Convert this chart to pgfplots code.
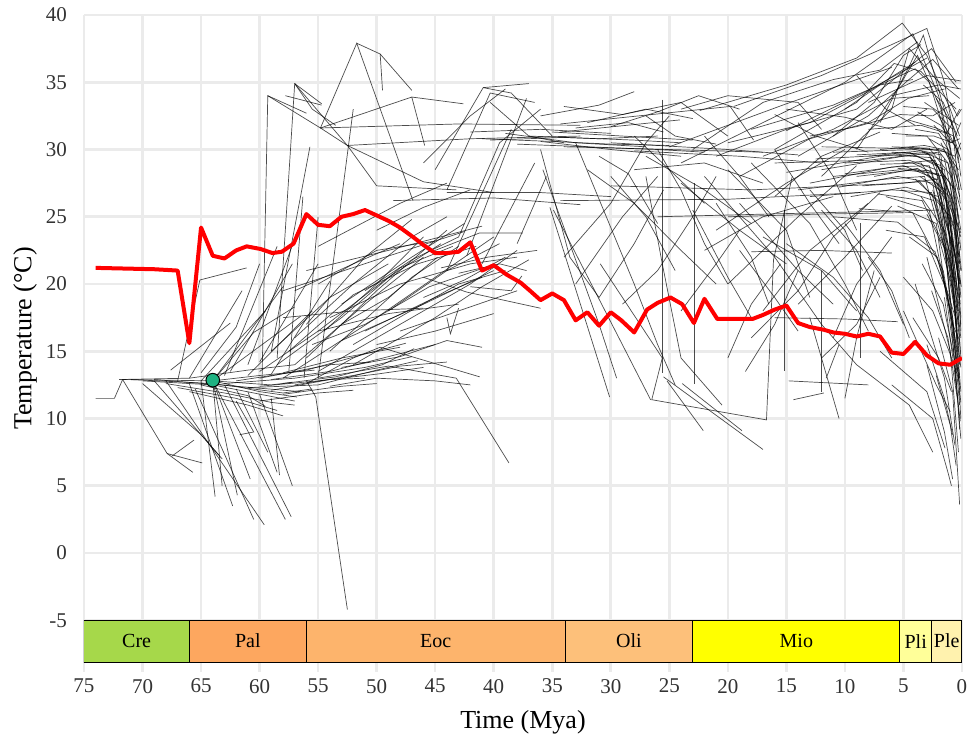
\documentclass[border=0pt]{standalone}
\usepackage{pgfplots}
\pgfplotsset{compat=1.18}
\usepackage{fontspec}
\setmainfont{Liberation Serif}
\definecolor{gridc}{RGB}{235,235,235}
\definecolor{cre}{HTML}{A6D84A}
\definecolor{pal}{HTML}{FDA75F}
\definecolor{eoc}{HTML}{FDB46C}
\definecolor{oli}{HTML}{FDC07A}
\definecolor{mio}{HTML}{FFFF00}
\definecolor{pli}{HTML}{FFFF99}
\definecolor{ple}{HTML}{FFF2AE}
\definecolor{dot}{RGB}{30,178,130}
\newcommand{\seg}[1]{\addplot[tr] coordinates {#1};}
\begin{document}
\begin{tikzpicture}
\begin{axis}[
  scale only axis, width=439pt, height=323.5pt,
  x dir=reverse, xmin=0, xmax=75, ymin=-8.1, ymax=40,
  xtick={0,5,...,75}, ytick={-5,0,...,40},
  grid=major, grid style={draw=gridc, line width=1.3pt},
  axis line style={draw=none},
  tick align=outside, major tick length=5pt,
  xtick style={draw=gridc, line width=1.3pt},
  ytick style={draw=none},
  xtick pos=bottom, ytick pos=left,
  /pgf/number format/assume math mode=true,
  tick label style={font=\fontsize{10.5}{12}\selectfont, text=black!80},
  label style={font=\fontsize{13}{16}\selectfont},
  xlabel={Time (Mya)}, ylabel={Temperature (°C)},
  ylabel style={at={(axis description cs:-0.067,0.5)}, anchor=center},
  xlabel style={at={(axis description cs:0.5,-0.093)}, anchor=center},
  tr/.style={black, opacity=0.7, line width=0.35pt},
]
% ---- root cluster
\seg{(74,11.5)(72.4,11.5)(71.7,12.9)(64,12.8)}
\seg{(71.7,12.9)(67.9,7.4)(65.7,6.0)}
\seg{(67.9,7.4)(64.9,6.7)}
\seg{(67.5,7.2)(65.6,8.4)}
\seg{(72,12.9)(66,13.0)(61,13.6)(57,14.0)}
\seg{(71,12.9)(64,12.6)(58,11.9)(55.5,12.2)}
\seg{(70,12.8)(64,12.5)(57,11.3)}
\seg{(69,12.9)(62,12.4)(56.5,12.0)}
\seg{(68,12.6)(63,11.9)(59,11.2)(57,11.0)}
\seg{(67,12.3)(62,11.5)(58.5,10.6)}
\seg{(66,12.0)(61,11.0)(58,10.2)}
\seg{(64,12.8)(60,12.0)(56.8,11.6)}
\seg{(64,12.8)(60,13.2)(55.3,13.6)}
\seg{(64,12.8)(59,12.5)(57.2,12.7)}
\seg{(65,12.5)(61,11.7)(59.5,10.9)}
\seg{(66,12.6)(62.3,3.5)}
\seg{(65.5,12.2)(60.5,2.5)}
\seg{(68,12.8)(59.6,2.1)}
\seg{(64,12.8)(57.8,2.5)}
\seg{(63,12.5)(57.3,2.7)}
\seg{(64,12.8)(61.9,4.3)}
\seg{(64,12.8)(63.2,5.0)}
\seg{(65,12.8)(63.8,4.2)}
\seg{(64,12.8)(60.8,5.5)}
\seg{(69,12.8)(63.5,7.3)}
\seg{(70,12.6)(65,8.8)(63.2,7.0)}
\seg{(62,12.2)(59.3,7.5)}
\seg{(61,12.0)(58.5,6.0)}
\seg{(60,11.8)(57.2,5.0)}
\seg{(59,11.5)(58.3,5.8)}
\seg{(62,11.3)(60.5,9.0)(61.7,8.8)}
\seg{(67.6,13.6)(62.5,17.1)}
\seg{(66,13.0)(61.5,19.5)}
\seg{(65,12.8)(59.5,18.0)}
\seg{(64,12.8)(58,19.8)}
\seg{(64,12.8)(60.5,16.4)(57,18.3)}
\seg{(64,12.8)(56.5,17.6)}
\seg{(65,13.4)(62,16.8)(60,21.5)}
\seg{(63,13.2)(58.5,22.8)}
\seg{(62.5,13.5)(57.2,21.5)}
\seg{(61,14)(56.5,24.5)}
\seg{(60,14.2)(55,21.5)}
\seg{(61,13.2)(55.5,18.0)}
\seg{(59,13.3)(54,20.2)}
\seg{(67,12.8)(65.1,20.3)(61.1,21.2)}
% ---- lower band
\seg{(60,12.4)(55,12.8)(50,13.3)(46,13.8)}
\seg{(59,12.9)(54,13.5)(49,14.6)(45,15.5)}
\seg{(58,13.4)(53,14.5)(48,15.3)}
\seg{(57,12.5)(52,13.2)(48,13.9)(44,14.2)}
\seg{(58,11.8)(53,12.4)(50,12.6)}
\seg{(60,11.3)(55,11.9)(52,12.1)}
\seg{(56,12.6)(52,14.5)(49.7,15.3)(41.2,13.1)}
\seg{(55,13.0)(49,13.9)(43.2,13.0)(38.7,6.7)}
\seg{(54,12.4)(50,13.0)(45,12.8)(42,12.5)}
\seg{(56,12.8)(55.2,11.6)(52.5,-4.2)}
\seg{(53,13.8)(48,14.6)(44,15.8)(41,15.3)}
\seg{(63,12.6)(57,13.0)(51,13.8)(47,14.6)}
\seg{(62,12.8)(56,13.6)(51,14.8)(47.5,15.6)}
\seg{(61,12.3)(55,12.5)(50,13.6)(46.5,14.3)}
\seg{(60,13.0)(54,14.0)(50.5,14.2)}
\seg{(59,12.1)(54,12.9)(51,13.0)}
\seg{(58,12.6)(53.5,13.1)(49.5,14.0)(46.8,15.2)}
% ---- rising band
\seg{(58,13.0)(50,17.5)(45,20.5)(40,23.5)}
\seg{(57,14.0)(51,18.5)(46,22.0)}
\seg{(56,14.5)(50,19.5)(44,24.0)}
\seg{(55,13.5)(48,17.0)(42,20.0)(38,22.5)}
\seg{(54,15.0)(47,20.5)(43,22.8)}
\seg{(57,16.0)(52,20.0)(47,23.5)(44,25.0)}
\seg{(53,15.8)(46,18.5)(40,21.0)}
\seg{(52,14.0)(45,17.5)(41,19.8)(37,21.8)}
\seg{(56,17.0)(51,22.0)(47,24.8)}
\seg{(59,15.0)(54,19.0)(49,21.5)}
\seg{(55,16.5)(49,17.8)(43,18.5)}
\seg{(58,17.5)(52,18.0)(46,18.2)}
\seg{(54,17.5)(48,20.0)(42,21.5)(38,22.0)}
\seg{(51,16.5)(45,19.0)(41,20.5)}
\seg{(50,15.5)(45,16.5)(40,17.8)}
\seg{(57,19.5)(52,21.5)(48,23.0)}
\seg{(55,20.0)(50,22.5)(45,23.2)}
\seg{(53,18.5)(47,22.0)(42.5,24.5)}
\seg{(49,18.0)(44,21.0)(39.5,23.0)}
\seg{(48,16.5)(43,18.0)(38,19.5)}
\seg{(46,19.0)(42.5,20.3)(39,22.0)}
\seg{(58,19.5)(50,21.8)(42.5,23.9)}
\seg{(56,21)(49,22.5)(41,24.3)}
\seg{(55,22.8)(48,26.0)(44,27.5)}
\seg{(50,24.0)(46,25.7)(42,27.0)}
\seg{(48.6,26.2)(40,26.4)(32.6,25.9)}
\seg{(44,26.8)(36,26.8)(30,26.5)}
\seg{(46,20.5)(42.3,19.4)(36,18.2)}
\seg{(42,19.8)(38.5,19.5)(37.6,20.6)}
\seg{(45,22.5)(41.2,23.8)(37.5,23.8)}
\seg{(44.5,21.2)(40.5,22)(36.3,22.5)}
\seg{(43,20.8)(39.5,21.5)(37.2,21)}
\seg{(44,17.5)(43.7,16.3)(43.0,18.2)}
\seg{(60,13.5)(55,16.5)(49,20.5)(44.5,23.0)}
\seg{(58.5,14)(53,17.5)(48,21.2)(43.5,22.8)}
\seg{(57.5,15)(52,19.2)(46.5,21.5)(41.5,22.8)}
\seg{(55.5,15.5)(51,17.0)(45.5,19.8)(40.5,21.3)}
\seg{(54.5,16.5)(50,20)(46,23.5)}
\seg{(53,17.0)(49,19.0)(44.8,22.0)}
\seg{(52,15.5)(47.5,17.8)(43,20.0)(39,21.0)}
\seg{(51,19.5)(47,21.8)(43,23.5)}
% ---- steep lines up to the Eocene highs
\seg{(59.8,12.5)(59.3,34.0)(54.8,31.6)}
\seg{(58.5,14.5)(57.0,34.9)(54.7,33.4)}
\seg{(57.0,34.9)(55.5,33.0)(53.5,31.8)}
\seg{(59.3,34.0)(56.0,32.7)}
\seg{(57.8,34.0)(54.7,33.3)}
\seg{(59,15)(55.7,30.2)}
\seg{(57.5,13.5)(56.3,26.5)}
\seg{(56.2,13)(55,25)}
\seg{(55,13)(52,33)}
\seg{(54.8,31.6)(51.7,37.9)(46.9,26.2)}
\seg{(51.7,37.9)(49.7,37.1)(47.0,34.4)}
\seg{(49.7,37.1)(49.5,34.4)}
\seg{(54.8,31.6)(52.5,30.3)(50.0,27.3)(43.2,27.0)}
\seg{(54.8,31.6)(47.0,33.9)(45.9,30.3)}
\seg{(47.0,33.9)(42.6,33.4)}
\seg{(54.8,31.6)(43,31.9)(32.6,31.8)}
\seg{(52.5,30.3)(42,30.8)(32.6,31.0)}
\seg{(57.0,34.9)(52.5,30.3)(46,27.6)(40,26.8)}
\seg{(45,28.5)(40.9,34.6)(37.0,34.9)}
\seg{(40.9,34.6)(38.5,34.2)(35,31.0)}
\seg{(44,27)(40.3,34.2)(36.5,33.5)}
\seg{(46,29)(42,32.5)(39,34.5)}
\seg{(40.3,33.5)(37,31)(34,30.5)}
\seg{(42.3,22.1)(37.2,33.8)}
\seg{(44,21)(38.5,31.5)}
\seg{(43,23.5)(39.5,30.5)(36,33)}
\seg{(41,21.5)(36.5,29.0)}
\seg{(38,23)(35.5,28)}
% ---- Oligocene band
\seg{(41,30.8)(35,30.6)(30,30.4)(25,30.3)}
\seg{(40.3,30.7)(34,30.9)(28,30.7)(24,30.5)}
\seg{(39,31.2)(33,30.5)(27,30.2)}
\seg{(38,30.4)(32,30.2)(26,30.0)(22,29.8)}
\seg{(37,31.0)(31,30.8)(26,31.0)}
\seg{(36,30.6)(30,30.0)(24,29.5)}
\seg{(42,31.3)(36,31.5)(30,31.2)}
\seg{(35,31.3)(29,31.0)(23,30.7)}
\seg{(34.3,31.9)(19.8,33.2)(17.8,30.7)}
\seg{(34.3,31.3)(24.1,32.2)}
\seg{(34,30.2)(25,30.0)(17,29.8)}
\seg{(30,30.5)(20,30.0)(14,29.6)}
\seg{(28,29.9)(19,29.5)(12,29.0)}
\seg{(34.3,26.2)(20,26.3)(8.7,26.8)}
\seg{(30,27.3)(18,27.0)(5,27.5)(2,27.8)}
\seg{(26,25.0)(12,25.3)(2,25.5)}
\seg{(34,33.2)(29,32.6)(24,33.5)(20,31)}
\seg{(32,32.0)(27,33.0)(23,32.3)}
\seg{(30,31.7)(26,32.8)(22.5,34.0)(19,33.0)}
\seg{(36,32.5)(31,33.3)(28,34.3)}
\seg{(27,32.5)(24.5,31)(21,30.4)}
\seg{(33,31.6)(28.5,32.0)(25.5,31.3)}
% ---- descending Oligocene lines
\seg{(35.2,25.7)(30.1,11.6)}
\seg{(34.9,25.5)(26.6,11.4)}
\seg{(35.8,28.5)(31,17)(29.5,13)}
\seg{(36,30)(33.5,22)(31,19)}
\seg{(33,30.5)(28,20)(26,15.5)(24.5,12.5)}
\seg{(25.6,33.7)(25.6,13.4)}
\seg{(27,28)(25.6,21.5)(24,14.5)(20.5,11)}
\seg{(30.9,21.5)(25.6,14.5)(26.5,11.4)(16.7,9.9)(16.1,21.8)(14.5,28)}
\seg{(25.5,13.1)(17.0,7.7)}
\seg{(25.2,12.8)(22.1,9.1)}
\seg{(23.9,12.6)(18.8,9.1)}
\seg{(22.9,27.5)(22.9,12.6)}
\seg{(14.4,11.4)(11.8,11.9)}
\seg{(11.6,13.0)(10.5,15.5)}
\seg{(34,22)(30,26)(27,30.5)(25,32.5)}
\seg{(33,20)(29,25)(26,28)}
\seg{(31,19)(28,23)(25.5,27)}
\seg{(29,18.5)(26,21)(23,25)(21,28)}
\seg{(32,28.5)(28,26)(24,22.5)(21,20)}
\seg{(30,28)(27,25)(24.5,21)}
\seg{(24,18)(21,21.5)(19,24)}
\seg{(28,31)(25,28.5)(22,26)}
\seg{(31,29.5)(28.5,28.2)(26,24.5)}
% ---- Miocene to present: upper arcs
\seg{(22.4,32.9)(15,34.8)(9,36.8)(5.1,39.4)(3,37)(1,33)(0.2,31)}
\seg{(19.5,33.2)(12,35.5)(6,37.8)(3.0,39.0)(1.5,35)(0.3,29)}
\seg{(24,29)(17,32)(10,35)(4.2,38.6)(2,34)(0.2,27)}
\seg{(16,30)(9,33.5)(5.8,36.4)(3.5,35.8)(0.5,33)}
\seg{(14,29.5)(8,32.5)(4.8,35)(2.5,36.7)(0.3,34.5)}
\seg{(12,28)(6,33)(4.5,37.5)(2.2,35.2)(0.2,33.8)}
\seg{(9,30)(5.5,34.5)(3.8,37.0)(1.8,33)(0.1,24)}
\seg{(18,31.5)(11,33.3)(6.5,35.0)(4.0,36.0)(2.8,35.0)(1,30)}
\seg{(7,32)(4.5,36.2)(3.3,38.5)(1.2,32)(0.2,22)}
\seg{(20,30.5)(13,32)(8,34.3)(4.0,36.5)}
\seg{(25,30.2)(15,33.4)(6,36.1)}
\seg{(15,31.4)(8,34.4)(3,36.8)}
\seg{(8,33.5)(3,35.5)(0.1,35.1)}
\seg{(6,34)(2,34.8)(0.1,34.5)}
\seg{(21,29.5)(15,31.5)(9,33.0)(5,35.8)(2.6,37.5)(0.5,35)}
\seg{(23,30)(17,33.5)(11,35.2)(7,35.9)(3.8,38.0)}
\seg{(19,28)(13,30.8)(8,32)(4.6,33.8)(1.5,34.5)}
\seg{(17,29.5)(11,31.5)(6,33.8)(2.8,34.0)}
\seg{(13,31)(9,31.7)(5.3,32.6)(2.5,32.5)(0.6,33.5)}
\seg{(10,33)(7,34.8)(4.2,35.2)}
\seg{(11,31)(7.5,33.5)(5,37)(3.5,37.8)}
\seg{(15,33.0)(10,32.4)(6,31.5)(3,33)}
\seg{(9,35.5)(6.5,33)(4,31.8)}
\seg{(16,32.6)(12.5,31)(8,29.8)}
\seg{(24,33)(20,34)(14,33.5)(12,31.5)}
% ---- right edge fans
\seg{(12,28.5)(5,29.5)(2,29.8)(0.2,20)}
\seg{(11,29.8)(4,30.0)(1.8,29.6)(0.1,16)}
\seg{(10,29)(4.5,29.2)(2.2,28.5)(0.3,18)}
\seg{(13,27.5)(6,28.7)(2.8,28.8)(0.5,22)}
\seg{(9,28)(4,28.5)(1.5,28)(0.2,14)}
\seg{(8,29.5)(3.5,29.9)(1.2,29)(0.1,25.5)}
\seg{(15,28.3)(7,29.5)(3,29.8)(0.6,27)}
\seg{(14,27)(6.5,27.8)(3.2,28)(0.8,20.5)}
\seg{(10.5,27.2)(5.5,28.0)(2.5,27.5)(0.4,17)}
\seg{(7.5,28)(3.8,28.6)(1.4,27)(0.1,12)}
\seg{(16,29)(8,29.2)(4.2,29.6)(1.8,28.8)(0.2,23)}
\seg{(6,30.2)(2.8,30.1)(0.9,28)(0.05,21)}
\seg{(5,29.0)(2.3,29.2)(0.7,26)(0.1,19)}
\seg{(11,28)(5.2,28.5)(2.0,28.2)(0.3,15.5)}
\seg{(9.5,26.5)(4.8,27.2)(2.0,26.5)(0.2,13)}
\seg{(8.5,27.3)(3.6,27.6)(1.0,25)(0.1,10)}
\seg{(13,26.5)(6,27)(2.6,26.8)(0.5,20)}
\seg{(7,30)(3.2,30.3)(1.6,30)(0.3,28.5)}
\seg{(4.5,30.1)(2.0,30.0)(0.6,29.5)(0.1,30.5)}
\seg{(12,30.2)(6,30.1)(2.5,30.0)}
\seg{(3.5,30.1)(1.2,29.8)(0.2,26.5)}
\seg{(3,28.2)(1.1,26.5)(0.1,23.5)}
\seg{(2.7,29.4)(1.0,27.5)(0.2,21.5)}
\seg{(4,27.8)(1.8,26.0)(0.4,13.5)}
\seg{(6.5,26.5)(2.8,25.5)(0.8,17)(0.2,11)}
\seg{(5.5,25.8)(2.2,24.5)(0.7,15)(0.1,8.5)}
\seg{(3.5,26.5)(1.5,24.0)(0.5,12.5)}
\seg{(2.5,27)(1.2,23)(0.4,16.5)}
\seg{(4.8,31)(2.4,31.0)(0.8,30.5)(0.1,32)}
\seg{(8,31.5)(3.5,31.8)(1.3,31.2)(0.2,33)}
\seg{(2,32.5)(1.0,31)(0.2,29.5)}
\seg{(3.2,33.5)(1.5,32.5)(0.3,31.8)}
\seg{(6,29.8)(2.5,29.6)(0.6,24)(0.1,17.5)}
\seg{(5.5,28.6)(2.6,28.4)(0.9,23)(0.15,15)}
\seg{(4.2,29.0)(1.9,28.0)(0.5,20.5)(0.1,14.5)}
\seg{(9,29.6)(4.5,29.8)(1.5,28.5)(0.2,19.5)}
\seg{(10,28.2)(5,28.8)(2.2,27.8)(0.3,21)}
\seg{(7,28.9)(3.5,29.0)(1.2,26)(0.1,17)}
\seg{(12.5,29.3)(6,29.6)(2.7,29.4)(0.7,25)(0.1,20)}
\seg{(4,31.5)(2,31.2)(0.5,29)(0.05,27)}
\seg{(3.8,32.8)(1.8,31.8)(0.4,30)(0.1,28)}
\seg{(2.2,33.8)(0.9,32)(0.1,30)}
\seg{(3.3,34.8)(1.6,33.5)(0.4,31)}
\seg{(5,33.2)(2.5,33.0)(0.8,31.5)(0.15,26)}
\seg{(2.8,30.8)(1.2,30)(0.3,27.5)}
\seg{(1.8,30.5)(0.7,28.5)(0.1,22.5)}
\seg{(2.2,29.0)(0.9,26.5)(0.15,18.5)}
\seg{(1.5,29.3)(0.6,25.5)(0.1,16.5)}
\seg{(3.6,28.0)(1.6,26.8)(0.5,23.5)(0.1,21)}
\seg{(5.2,27.0)(2.4,26.2)(0.9,22)(0.2,18.8)}
\seg{(7.2,26.7)(3.4,26.2)(1.3,22.5)(0.3,19)}
\seg{(8.8,25.6)(4.2,25.3)(1.6,21)(0.4,15)}
\seg{(11,25.0)(5.5,24.6)(2.3,22.4)(0.6,17.6)(0.1,13.8)}
\seg{(6.5,24.0)(3.2,23.5)(1.3,19.5)(0.2,12.5)}
\seg{(4.5,23.5)(2.1,22.0)(0.8,17.5)(0.1,11.2)}
\seg{(3,25.2)(1.4,22.5)(0.4,18.0)}
\seg{(2,26.8)(1.0,24.5)(0.3,20.2)}
\seg{(1.4,27.8)(0.6,25)(0.1,23.8)}
\seg{(3.4,21.5)(1.6,18.5)(0.6,14.2)(0.2,9.2)}
\seg{(2.6,19.5)(1.2,16.0)(0.4,11.5)}
\seg{(5,20.5)(2.5,18)(1.1,15)(0.3,13)}
\seg{(4.2,17.5)(2.0,14.5)(0.9,12)}
\seg{(1.8,21.5)(0.8,17.0)(0.2,15.8)}
\seg{(1.2,25.2)(0.5,21.5)(0.05,19.8)}
\seg{(2.4,31.8)(1.0,30.5)(0.2,30.8)}
\seg{(4.6,32.2)(2.2,31.6)(0.7,31.0)(0.1,29.2)}
\seg{(1,33.5)(0.4,32.5)(0.05,33)}
\seg{(6,31.2)(3,31.0)(1.2,29)(0.3,24.8)}
\seg{(2.0,23.5)(0.9,20)(0.25,16.8)}
\seg{(1.5,19)(0.7,14)(0.15,9.8)}
\seg{(3,15.5)(1.5,11.5)(0.8,8.8)}
\seg{(2.2,13.2)(1.0,9.5)(0.5,6.5)}
% ---- low tips
\seg{(6,12.5)(2.5,10)(1.2,6)(0.9,5)}
\seg{(3,14)(1.5,9)(0.8,5.5)}
\seg{(2,16)(0.8,12)(0.2,3.6)}
\seg{(4,20)(1.5,13)(0.6,8.0)}
\seg{(7,15)(3,12)(1.45,7.8)}
\seg{(5,18)(2.2,12.5)(1.0,10.5)}
\seg{(3,22)(1,15)(0.3,7.5)}
\seg{(9,14)(4.5,11)(2.5,7.5)}
% ---- Miocene criss-cross
\seg{(22,28)(16,22)(12,17)(9,14)}
\seg{(21,24)(15,27.5)(10,30)}
\seg{(20,20)(14,25)(9,28.8)}
\seg{(19,26)(14,21)(11,18.5)}
\seg{(18,29)(13,24.5)(10,20)(8,16.5)}
\seg{(17,18)(13,22.5)(8,26)}
\seg{(22,22.5)(17,25)(11,26.5)}
\seg{(16,26.5)(12,29.5)(7,31.3)}
\seg{(15,23)(11,20.5)(8,17.5)(6,14.5)}
\seg{(14,18.5)(10,22)(6,25.8)}
\seg{(20,28.5)(15,24)(13,19)}
\seg{(18,16)(14,19.5)(11,23.5)(7,26.8)}
\seg{(13,27)(10,24)(8.5,21)}
\seg{(12,25.5)(9,22.5)(7,19)}
\seg{(11,16)(9,20)(6,23.5)}
\seg{(24,27.5)(19,24)(15,21.5)}
\seg{(19,22.5)(16,19)(14,16.5)}
\seg{(17,23.5)(12,21)(9,18)}
\seg{(10,24.5)(7,21)(5,17)}
\seg{(8,22)(6,19.5)(4.5,16)}
\seg{(21,26)(18,22)(16.5,18.5)}
\seg{(23,25.5)(20,20.5)(18,17.5)}
\seg{(16,30)(13,26)(10.5,23)}
\seg{(12,14.5)(9,17)(7,20.5)}
\seg{(28,28.5)(22,29)(17,27.5)}
\seg{(27,29.5)(22,27)(18,24.5)}
\seg{(26,30)(24,27)(22,23)(20,20)}
\seg{(22,31)(19,28)(16.5,25)}
\seg{(14,32)(11,28)(9,24)}
\seg{(18.5,13.5)(16,17)(14,21)}
\seg{(20,14.5)(18,18.5)(15.5,21.5)}
\seg{(10,11.5)(9,16)(7.5,21)}
\seg{(13,17.5)(11.5,13)(10.5,10)}
\seg{(12,21)(12,12)}
\seg{(8.7,24.5)(8.7,14.5)}
\seg{(15.2,25.5)(15.2,13.5)}
\seg{(20,25)(12,25.2)(5,25.3)}
\seg{(18,22.4)(12,22.5)(6,22.3)}
\seg{(16,17.5)(10,17.4)(5.5,17.2)}
\seg{(14.8,12.8)(8,12.5)}
% ---- timescale
\addplot[fill=cre, draw=black, line width=0.5pt] coordinates {(75,-8.1)(66,-8.1)(66,-5)(75,-5)} -- cycle;
\addplot[fill=pal, draw=black, line width=0.5pt] coordinates {(66,-8.1)(56,-8.1)(56,-5)(66,-5)} -- cycle;
\addplot[fill=eoc, draw=black, line width=0.5pt] coordinates {(56,-8.1)(33.9,-8.1)(33.9,-5)(56,-5)} -- cycle;
\addplot[fill=oli, draw=black, line width=0.5pt] coordinates {(33.9,-8.1)(23,-8.1)(23,-5)(33.9,-5)} -- cycle;
\addplot[fill=mio, draw=black, line width=0.5pt] coordinates {(23,-8.1)(5.3,-8.1)(5.3,-5)(23,-5)} -- cycle;
\addplot[fill=pli, draw=black, line width=0.5pt] coordinates {(5.3,-8.1)(2.6,-8.1)(2.6,-5)(5.3,-5)} -- cycle;
\addplot[fill=ple, draw=black, line width=0.5pt] coordinates {(2.6,-8.1)(0,-8.1)(0,-5)(2.6,-5)} -- cycle;
\node[font=\fontsize{10}{12}\selectfont] at (axis cs:70.5,-6.55) {Cre};
\node[font=\fontsize{10}{12}\selectfont] at (axis cs:61,-6.55) {Pal};
\node[font=\fontsize{10}{12}\selectfont] at (axis cs:44.95,-6.55) {Eoc};
\node[font=\fontsize{10}{12}\selectfont] at (axis cs:28.45,-6.55) {Oli};
\node[font=\fontsize{10}{12}\selectfont] at (axis cs:14.15,-6.55) {Mio};
\node[font=\fontsize{10}{12}\selectfont] at (axis cs:3.95,-6.55) {Pli};
\node[font=\fontsize{10}{12}\selectfont] at (axis cs:1.3,-6.55) {Ple};
% ---- red mean line
\addplot[red, line width=2pt, line join=round] coordinates {
(74,21.2)(69,21.1)(67,21.0)(66,15.6)(65,24.2)(64,22.1)(63,21.9)(62,22.5)(61.1,22.8)
(59.9,22.6)(58.9,22.3)(58.1,22.4)(57.1,23.0)(56,25.2)(55,24.4)(54,24.3)(53,25.0)
(52,25.2)(51,25.5)(50,25.1)(49,24.7)(48,24.2)(46.9,23.5)(46,22.9)(45,22.3)(44,22.3)
(43,22.4)(42,23.1)(41,21.0)(40,21.4)(38.9,20.7)(37.7,20.1)(36.9,19.5)(36,18.8)
(35,19.3)(34,18.8)(33,17.3)(32,17.9)(31,16.9)(30,17.9)(29.1,17.3)(28,16.4)(26.9,18.1)
(26,18.6)(24.9,19.0)(23.9,18.5)(22.9,17.1)(22,18.9)(20.9,17.4)(20,17.4)(19,17.4)
(17.9,17.4)(17,17.7)(16,18.1)(15,18.4)(14,17.1)(13,16.8)(11.8,16.6)(11,16.4)(10,16.3)
(9,16.1)(8,16.3)(7,16.1)(6,14.9)(5,14.8)(4,15.7)(3,14.7)(2,14.1)(1,14.0)(0,14.5)};
% ---- root dot
\addplot[only marks, mark=*, mark size=3.4pt, mark options={fill=dot, draw=black, line width=0.5pt}] coordinates {(64,12.85)};
\end{axis}
\pgfresetboundingbox
\path ([xshift=-42pt,yshift=-42pt]current axis.south west) rectangle ([xshift=3.5pt,yshift=7.5pt]current axis.north east);
\end{tikzpicture}
\end{document}
